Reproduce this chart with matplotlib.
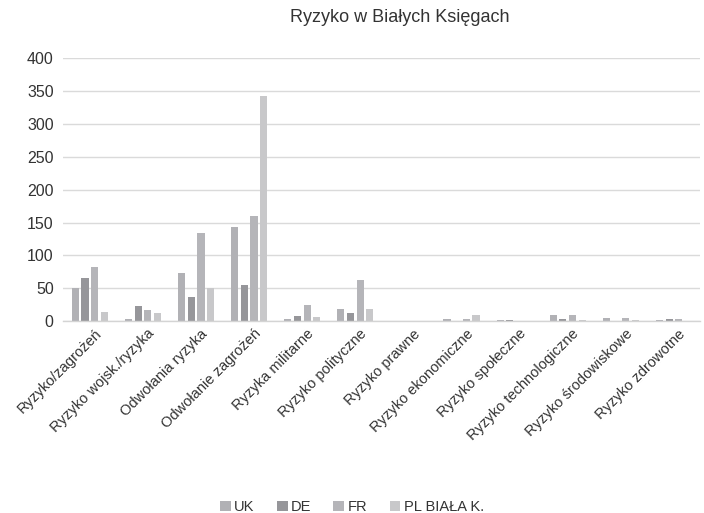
import numpy as np
import matplotlib.pyplot as plt

plt.rcParams['font.family'] = ['Liberation Sans', 'DejaVu Sans']

categories = ['Ryzyko/zagrożeń', 'Ryzyko wojsk./ryzyka', 'Odwołania ryzyka',
              'Odwołanie zagrożeń', 'Ryzyka militarne', 'Ryzyko polityczne',
              'Ryzyko prawne', 'Ryzyko ekonomiczne', 'Ryzyko społeczne',
              'Ryzyko technologiczne', 'Ryzyko środowiskowe', 'Ryzyko zdrowotne']
uk = [51, 4, 74, 143, 3, 18, 0, 4, 1, 10, 5, 1]
de = [65, 23, 36, 55, 8, 13, 0, 0, 1, 4, 0, 3]
fr = [82, 17, 134, 160, 24, 63, 0, 3, 0, 10, 5, 2.5]
pl = [14, 12, 51, 343, 6, 18, 0, 10, 0, 1, 2, 0]

series = [('UK', uk, '#b1b1b5'), ('DE', de, '#96969a'),
          ('FR', fr, '#b5b5b9'), ('PL BIAŁA K.', pl, '#c8c8ca')]

fig = plt.figure(figsize=(7.04, 5.13), dpi=100)
ax = fig.add_axes([0.09, 0.374, 0.905, 0.512])

x = np.arange(len(categories))
step = 0.182
for i, (name, vals, col) in enumerate(series):
    ax.bar(x + (i - 1.5) * step, vals, width=0.135, color=col, label=name)

ax.set_xlim(-0.5, len(categories) - 0.5)
ax.set_ylim(0, 400)
ax.set_yticks(range(0, 401, 50))
ax.grid(axis='y', color='#dadada', linewidth=1)
ax.set_axisbelow(True)
for s in ['top', 'right', 'left']:
    ax.spines[s].set_visible(False)
ax.spines['bottom'].set_color('#d4d4d4')
ax.spines['bottom'].set_linewidth(1)
ax.tick_params(axis='both', length=0, colors='#333333')
ax.tick_params(axis='y', pad=7, labelsize=11.5)
ax.set_xticks(x + 0.08)
ax.set_xticklabels(categories, rotation=45, ha='right', va='top',
                   rotation_mode='anchor', fontsize=10.5)
ax.tick_params(axis='x', pad=4)

fig.text(0.568, 0.965, 'Ryzyko w Białych Księgach', ha='center', va='center',
         fontsize=13, color='#333333')

fig.legend(loc='lower center', bbox_to_anchor=(0.5, -0.028), ncol=4, frameon=False,
           fontsize=10.5, handlelength=0.75, handleheight=0.75, handletextpad=0.25,
           columnspacing=1.5, labelcolor='#333333')

fig.savefig('out.png', dpi=100)
